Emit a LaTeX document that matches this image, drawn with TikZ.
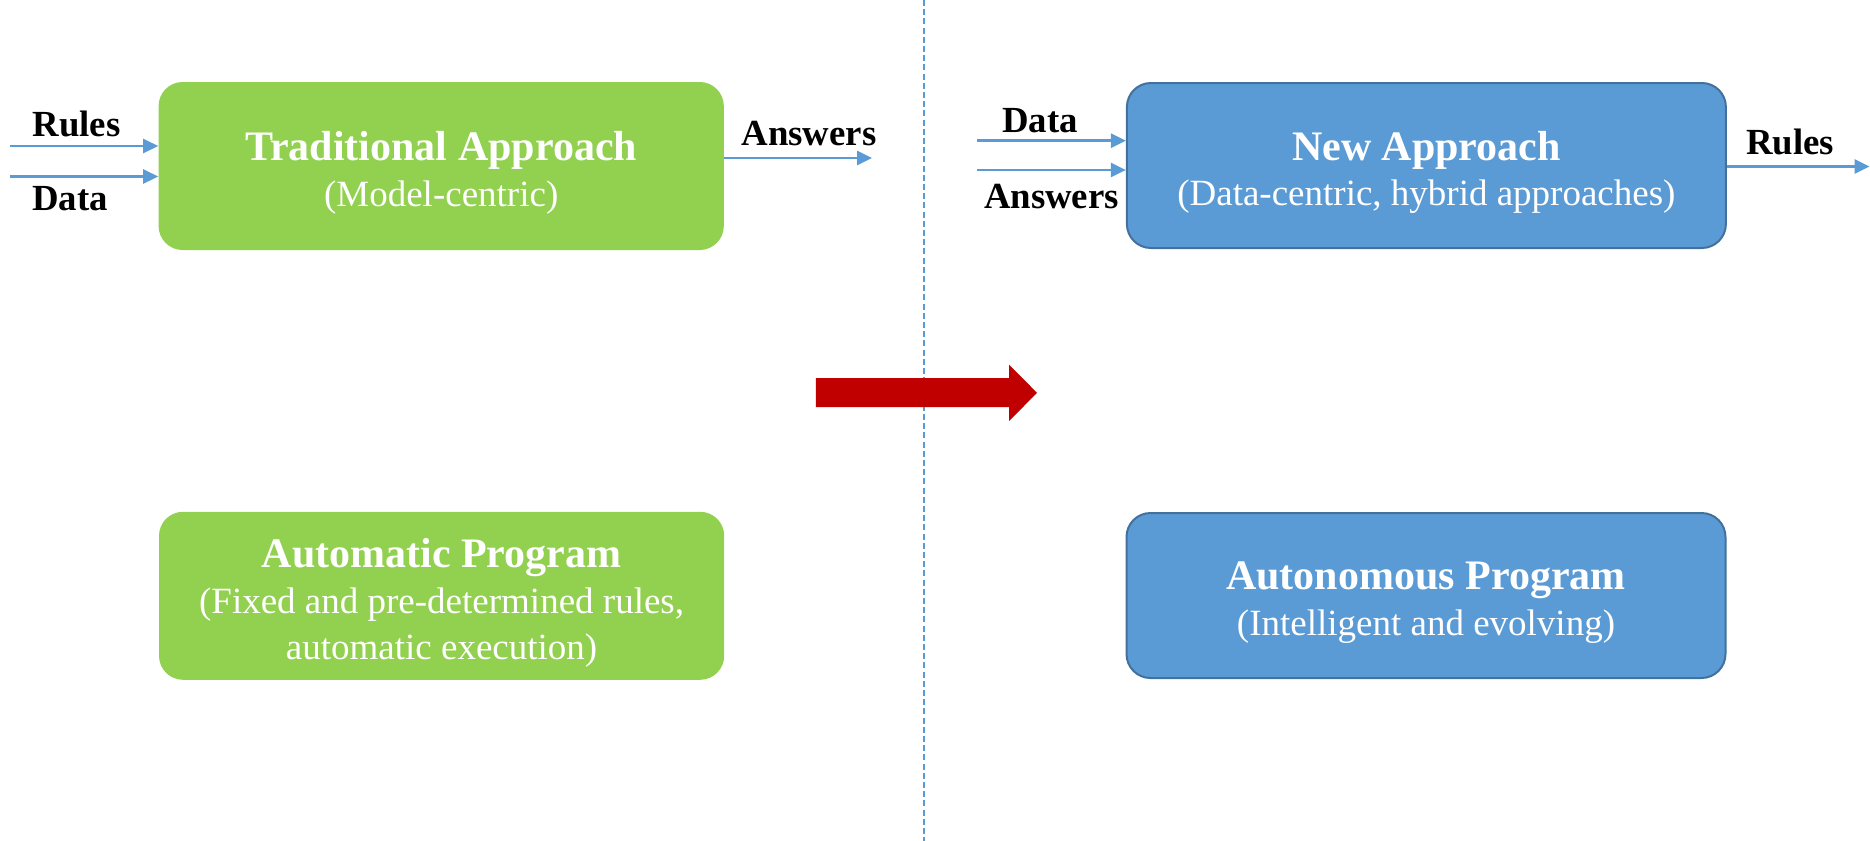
\documentclass[tikz,border=0pt]{standalone}
\usepackage{fontspec}
\setmainfont{Liberation Serif}
\usetikzlibrary{arrows.meta}

\definecolor{tradgreen}{HTML}{92D050}
\definecolor{newblue}{HTML}{5B9BD5}
\definecolor{newblueline}{HTML}{41719C}
\definecolor{shiftred}{HTML}{C00000}

\begin{document}
\begin{tikzpicture}[
        x=0.5pt, y=-0.5pt,
        box/.style={rounded corners=12pt, inner sep=0pt},
        greenbox/.style={box, fill=tradgreen, minimum width=282.6pt, minimum height=84pt},
        bluebox/.style={box, fill=newblue, draw=newblueline, line width=1pt,
            minimum width=299.5pt, minimum height=82.5pt},
        boxtext/.style={text=white, align=center, inner sep=0pt,
            font=\fontsize{18.5}{22.8}\selectfont},
        tag/.style={font=\fontsize{18.4}{20}\selectfont\bfseries, anchor=base, inner sep=0pt},
        flow/.style={draw=newblue, line width=1.3pt, -{Triangle[length=7.5pt,width=7pt]}},
        divider/.style={draw=newblue, line width=0.7pt, dash pattern=on 3pt off 1.6pt}
    ]
    \useasboundingbox (0,0) rectangle (1870,841);

    % split between old and new
    \draw[divider] (924,0) -- (924,841);

    % left column
    \node[greenbox] (trad) at (441.2,166) {};
    \node[boxtext] (tradText) at ([yshift=-3.5pt]trad.center)
        {{\fontsize{21}{22.8}\selectfont\bfseries Traditional Approach}\\(Model-centric)};
    \node[greenbox] (auto) at (441.6,595.8) {};
    \node[boxtext] (autoText) at ([yshift=-3.5pt]auto.center)
        {{\fontsize{21}{22.8}\selectfont\bfseries Automatic Program}\\
         (Fixed and pre-determined rules,\\automatic execution)};

    % right column
    \node[bluebox] (new) at (1426.4,165.5) {};
    \node[boxtext] (newText) at ([yshift=-3.5pt]new.center)
        {{\fontsize{21}{22.8}\selectfont\bfseries New Approach}\\(Data-centric, hybrid approaches)};
    \node[bluebox] (auton) at (1426,595.5) {};
    \node[boxtext] (autonText) at ([yshift=-3.5pt]auton.center)
        {{\fontsize{21}{22.8}\selectfont\bfseries Autonomous Program}\\(Intelligent and evolving)};

    % inputs and outputs
    \coordinate (rulesIn) at (9.5,146);
    \coordinate (dataIn) at (9.5,176.5);
    \coordinate (answersOut) at (872,158);
    \coordinate (newDataIn) at (977.4,140.7);
    \coordinate (newAnswersIn) at (977.4,170);
    \coordinate (newRulesOut) at (1869.5,166.5);

    \draw[flow] (rulesIn) -- (rulesIn -| trad.west);
    \draw[flow] (dataIn) -- (dataIn -| trad.west);
    \draw[flow] (answersOut -| trad.east) -- (answersOut);
    \draw[flow] (newDataIn) -- (newDataIn -| new.west);
    \draw[flow] (newAnswersIn) -- (newAnswersIn -| new.west);
    \draw[flow] (newRulesOut -| new.east) -- (newRulesOut);

    \node[tag] (rulesLbl) at (76.5,136.7) {Rules};
    \node[tag] (dataLbl) at (70,210) {Data};
    \node[tag] (answersLbl) at (809,145) {Answers};
    \node[tag] (newDataLbl) at (1040,132.7) {Data};
    \node[tag] (newAnswersLbl) at (1051.5,208.3) {Answers};
    \node[tag] (newRulesLbl) at (1790,154) {Rules};

    % big shift arrow
    \fill[shiftred] (815.8,378.2) -- (1009,378.2) -- (1009,364.6) -- (1037,392.8)
        -- (1009,421.2) -- (1009,407.2) -- (815.8,407.2) -- cycle;
\end{tikzpicture}
\end{document}
